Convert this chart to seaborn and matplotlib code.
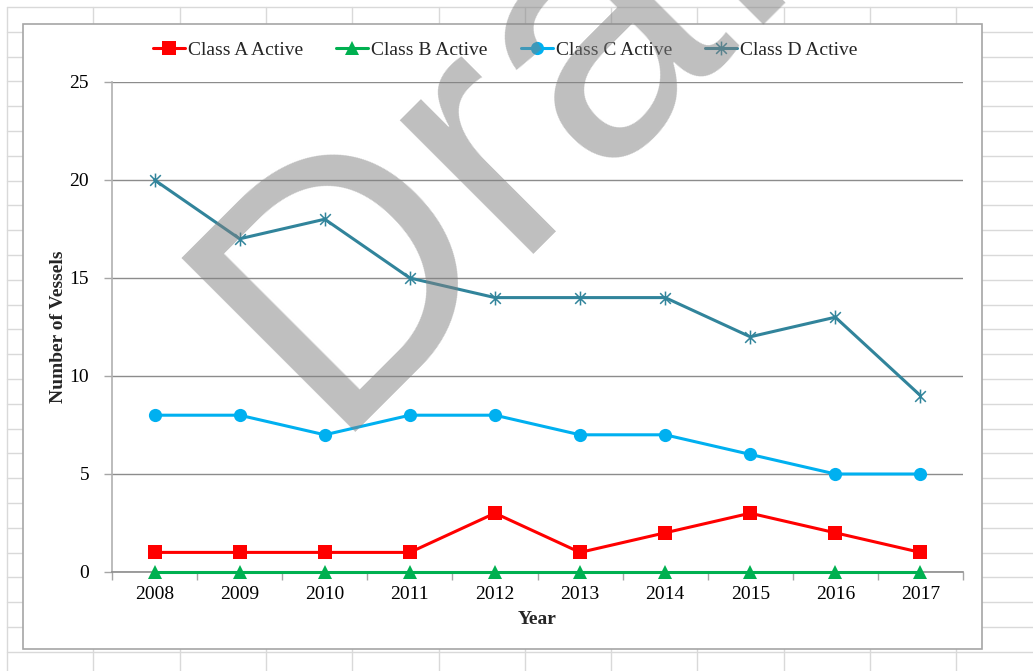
import numpy as np
import pandas as pd
import matplotlib
matplotlib.use("Agg")
import matplotlib.pyplot as plt
import seaborn as sns
from matplotlib.path import Path
from matplotlib.patches import Rectangle

# ---- data ----
years = [2008, 2009, 2010, 2011, 2012, 2013, 2014, 2015, 2016, 2017]
class_a = [1, 1, 1, 1, 3, 1, 2, 3, 2, 1]
class_b = [0, 0, 0, 0, 0, 0, 0, 0, 0, 0]
class_c = [8, 8, 7, 8, 8, 7, 7, 6, 5, 5]
class_d = [20, 17, 18, 15, 14, 14, 14, 12, 13, 9]
series_names = ["Class A Active", "Class B Active", "Class C Active", "Class D Active"]
y_ticks = [0, 5, 10, 15, 20, 25]

sns.set_theme(style="white")
plt.rcParams['font.family'] = ['Liberation Serif', 'DejaVu Serif']

W, H = 1033, 671
fig = plt.figure(figsize=(W / 100, H / 100), dpi=100)

# spreadsheet-like background
bg = fig.add_axes([0, 0, 1, 1], zorder=0)
bg.set_xlim(0, W)
bg.set_ylim(H, 0)
bg.axis("off")
gx = 7
while gx < W:
    bg.plot([gx, gx], [7, H], color="#d9d9d9", lw=1)
    gx += 86.3
gy = 7
while gy < H:
    bg.plot([7, W], [gy, gy], color="#d9d9d9", lw=1)
    gy += 24.8
bg.add_patch(Rectangle((23, 24), 959, 625, facecolor="white", edgecolor="#a6a6a6", lw=1.2, zorder=3))

# main chart
ax = fig.add_axes([112 / W, 1 - 572 / H, (963 - 112) / W, (572 - 82) / H], zorder=2)
ax.patch.set_alpha(0)

star = Path([(-1, -1), (1, 1), (-1, 1), (1, -1), (0, -1.3), (0, 1.3)],
            [Path.MOVETO, Path.LINETO, Path.MOVETO, Path.LINETO, Path.MOVETO, Path.LINETO])

df = pd.DataFrame({"Year": years * 4,
                   "Value": class_a + class_b + class_c + class_d,
                   "Series": sum([[n] * len(years) for n in series_names], [])})
colors = {"Class A Active": "#FF0000", "Class B Active": "#00B050",
          "Class C Active": "#00B0F0", "Class D Active": "#31849B"}
markers = {"Class A Active": "s", "Class B Active": "^",
           "Class C Active": "o", "Class D Active": star}
msizes = {"Class A Active": 9.5, "Class B Active": 9.5, "Class C Active": 9.5, "Class D Active": 10}

for name in series_names:
    sub = df[df["Series"] == name]
    sns.lineplot(data=sub, x="Year", y="Value", ax=ax, color=colors[name], lw=2.2,
                 marker=markers[name], markersize=msizes[name],
                 markeredgecolor=colors[name], markeredgewidth=1.1 if name == "Class D Active" else 0,
                 label=name, zorder=5, clip_on=False)

ax.set_xlim(years[0] - 0.5, years[-1] + 0.5)
ax.set_ylim(0, 25)
ax.set_yticks(y_ticks)
ax.set_xticks(years)
ax.set_xticklabels([str(y) for y in years])
ax.set_xticks([y + 0.5 for y in [years[0] - 1] + years], minor=True)
ax.tick_params(axis="x", which="major", length=0, pad=10, labelsize=14, colors="black")
ax.tick_params(axis="x", which="minor", length=6, width=1, color="#a6a6a6", direction="out", bottom=True)
ax.tick_params(axis="y", which="major", length=6, width=1, color="#a6a6a6", direction="out", left=True,
               pad=10.5, labelsize=14, labelcolor="black")
ax.yaxis.grid(True, color="#8c8c8c", lw=1)
ax.xaxis.grid(False)
for s in ["top", "right"]:
    ax.spines[s].set_visible(False)
ax.spines["left"].set_color("#b0b0b0")
ax.spines["bottom"].set_color("#8c8c8c")
ax.spines["left"].set_linewidth(1.2)
ax.spines["bottom"].set_linewidth(1.2)

ax.set_xlabel("Year", fontsize=14, fontweight="bold", labelpad=6)
ax.set_ylabel("Number of Vessels", fontsize=14, fontweight="bold", labelpad=2)

leg = ax.legend(loc="center", bbox_to_anchor=(0.462, 1.065), ncol=4, frameon=False,
                fontsize=14, handlelength=1.65, handletextpad=0.15, columnspacing=1.7,
                borderaxespad=0, borderpad=0)

# watermark
fig.text(327 / W, 1 - 432 / H, "Draft", fontsize=257, family="Liberation Sans",
         color="#808080", alpha=0.5, rotation=45, rotation_mode="anchor",
         ha="left", va="baseline", zorder=10)

fig.savefig("out.png", dpi=100)
